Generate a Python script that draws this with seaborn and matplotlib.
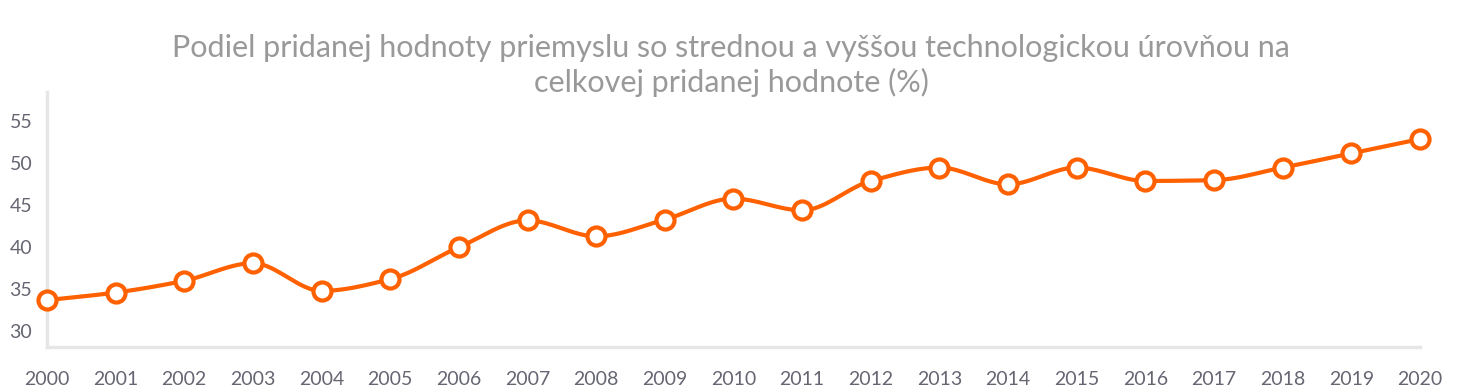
import numpy as np
import pandas as pd
import matplotlib
matplotlib.use('Agg')
import matplotlib.pyplot as plt
import seaborn as sns

years = list(range(2000, 2021))
values = [33.7, 34.6, 36.0, 38.1, 34.8, 36.2, 40.0, 43.2, 41.3, 43.3, 45.8,
          44.4, 47.9, 49.5, 47.5, 49.5, 47.9, 48.0, 49.5, 51.2, 52.9]
y_ticks = [30, 35, 40, 45, 50, 55]
title = ("Podiel pridanej hodnoty priemyslu so strednou a vyššou technologickou úrovňou na\n"
         "celkovej pridanej hodnote (%)")

LINE = '#ff6100'
GRID = '#e6e6e6'
TEXT = '#666673'


def smooth(x, y, n=20):
    """monotone cubic (Fritsch-Carlson) just for drawing the curve"""
    x = np.asarray(x, float)
    y = np.asarray(y, float)
    h = np.diff(x)
    d = np.diff(y) / h
    m = np.zeros_like(y)
    m[0], m[-1] = d[0], d[-1]
    for i in range(1, len(y) - 1):
        if d[i - 1] * d[i] <= 0:
            m[i] = 0
        else:
            m[i] = 2 / (1 / d[i - 1] + 1 / d[i])
    xs, ys = [], []
    for i in range(len(x) - 1):
        t = np.linspace(0, 1, n, endpoint=False)
        h00 = 2 * t**3 - 3 * t**2 + 1
        h10 = t**3 - 2 * t**2 + t
        h01 = -2 * t**3 + 3 * t**2
        h11 = t**3 - t**2
        xs.extend(x[i] + t * h[i])
        ys.extend(h00 * y[i] + h10 * h[i] * m[i] + h01 * y[i + 1] + h11 * h[i] * m[i + 1])
    xs.append(x[-1])
    ys.append(y[-1])
    return np.array(xs), np.array(ys)


df = pd.DataFrame({'Rok': years, 'Hodnota': values})
sx, sy = smooth(df['Rok'], df['Hodnota'])
curve = pd.DataFrame({'Rok': sx, 'Hodnota': sy})

sns.set_theme(style='white')
plt.rcParams['font.family'] = ['Lato', 'DejaVu Sans']

fig = plt.figure(figsize=(14.62, 3.9), dpi=100)
ax = fig.add_axes([0.0321, 0.110, 0.9392, 0.654])

sns.lineplot(data=curve, x='Rok', y='Hodnota', ax=ax, color=LINE, linewidth=3,
             estimator=None, sort=False, clip_on=False, zorder=3)
ax.plot(df['Rok'], df['Hodnota'], linestyle='none', marker='o', markersize=13,
        markerfacecolor='white', markeredgecolor=LINE, markeredgewidth=3,
        clip_on=False, zorder=4)

ax.set_xlim(2000, 2020)
ax.set_ylim(28.1, 58.5)
ax.set_xticks(years)
ax.set_yticks(y_ticks)
ax.set_xlabel('')
ax.set_ylabel('')

for side in ['top', 'right']:
    ax.spines[side].set_visible(False)
for side in ['left', 'bottom']:
    ax.spines[side].set_color(GRID)
    ax.spines[side].set_linewidth(2.5)

ax.tick_params(axis='both', direction='inout', length=15, width=1.5, color=GRID,
               labelcolor=TEXT, labelsize=14)
ax.tick_params(axis='x', pad=10)
ax.tick_params(axis='y', pad=3)

fig.text(0.5, 0.832, title, ha='center', va='center', fontsize=22,
         color='#999999', linespacing=1.28)

plt.savefig('out.png', dpi=100)
